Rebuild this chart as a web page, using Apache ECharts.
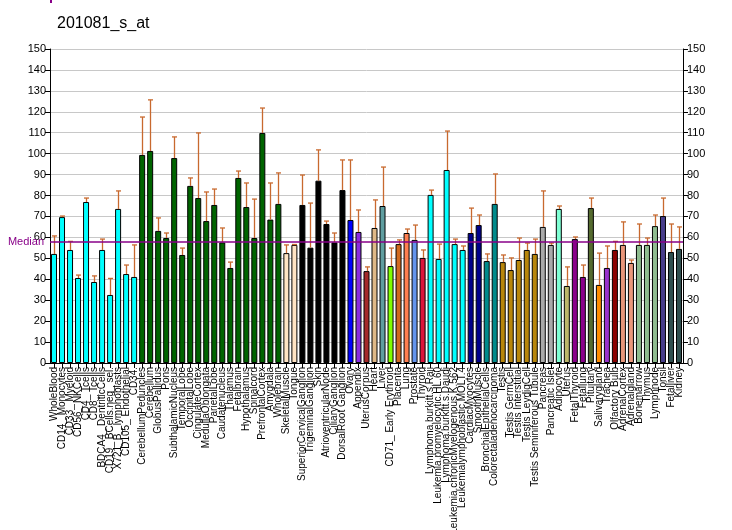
<!DOCTYPE html>
<html><head><meta charset="utf-8">
<script src="https://cdn.jsdelivr.net/npm/echarts@6/dist/echarts.min.js"></script>
<style>html,body{margin:0;padding:0;background:#fff}#c{width:732px;height:530px}</style>
</head><body><div id="c"></div>
<script>
const categories = ["WholeBlood","CD14_ Monocytes","CD33_ Myeloid","CD56_ NKCells","CD4_ Tcells","CD8_ Tcells","BDCA4_ DentriticCells","CD19_ BCells.neg_ sel.","X721_B_ lymphoblasts","CD105_ Endothelial","CD34.",
"CerebellumPeduncles","Cerebellum","GlobusPallidus","Pons","SubthalamicNucleus","TemporalLobe","OccipitalLobe","CingulateCortex","MedullaOblongata","ParietalLobe","Caudatenucleus","Thalamus","Fetalbrain","Hypothalamus","Spinalcord","PrefrontalCortex","Amygdala","Wholebrain",
"SkeletalMuscle","Tongue","SuperiorCervicalGanglion","TrigeminalGanglion","Skin","AtrioventricularNode","CiliaryGanglion","DorsalRoot Ganglion","Ovary","Appendix","UterusCorpus","Heart","Liver","CD71_ Early Erythroid","Placenta","Lung","Prostate","Thyroid",
"Lymphoma.burkitt.s.Raji","Leukemia.promyelocytic.HL.60","Lymphoma.burkitt.s.Daudi","Leukemia.chronicMyelogenous.K.562","Leukemialymphoblastic.MOLT.4","CardiacMyocytes","SmoothMuscle","BronchialEpithelialCells","Colorectaladenocarcinoma",
"Testis","Testis GermCell","Testis Interstitial","Testis LeydigCell","Testis Seminiferous Tubule","Pancreas","Pancreatic Islet","Adipocyte","Uterus","FetalThyroid","Fetallung","Pituitary","Salivarygland","Trachea","Olfactory Bulb","AdrenalCortex","Adrenalgland","Bonemarrow","Thymus","Lymphnode","Tonsil","Fetalliver","Kidney"];
const values = [52.1,69.7,54.0,40.6,76.9,38.7,54.0,32.5,73.6,42.5,41.1,
99.4,101.3,63.1,59.7,97.9,51.6,84.6,78.8,67.8,75.5,57.6,45.4,88.4,74.5,59.7,109.9,68.5,76.0,
52.5,56.4,75.5,55.1,87.1,66.4,57.6,82.6,68.3,62.6,43.9,64.5,75.0,46.3,56.8,62.1,58.8,50.2,
80.3,49.7,92.2,56.8,54.0,62.1,65.9,48.7,76.0,
48.2,44.4,49.2,54.0,52.1,65.0,56.4,73.6,36.8,59.2,41.1,74.0,37.3,45.4,54.0,56.4,47.8,56.4,56.4,65.4,70.2,53.0,54.5];
const errorTops = [60.7,70.2,58.1,42.0,78.8,41.6,59.2,40.4,82.2,46.8,56.4,
117.5,125.7,69.3,62.1,108.0,54.9,88.4,109.9,81.7,83.1,64.5,48.2,91.7,86.0,78.3,121.8,86.0,90.8,
56.4,56.6,89.8,76.4,101.8,67.8,62.1,97.0,97.0,73.1,45.9,77.9,93.6,54.9,58.8,64.0,65.9,54.0,
82.6,56.8,110.8,59.2,55.9,74.0,70.7,52.1,90.3,
51.6,50.2,59.7,57.3,59.2,82.2,57.3,75.0,45.9,60.2,46.8,78.8,52.5,55.9,58.1,67.4,49.2,66.4,59.7,70.7,78.8,66.4,65.0];
const barColors = ["#00FFFF","#00FFFF","#00FFFF","#00FFFF","#00FFFF","#00FFFF","#00FFFF","#00FFFF","#00FFFF","#00FFFF","#00FFFF",
"#006400","#006400","#006400","#006400","#006400","#006400","#006400","#006400","#006400","#006400","#006400","#006400","#006400","#006400","#006400","#006400","#006400","#006400",
"#FFE4C4","#FFE4C4","#000000","#000000","#000000","#000000","#000000","#000000","#0000FF","#8A2BE2","#A52A2A","#DEB887","#5F9EA0","#7FFF00","#D2691E","#FF7F50","#6495ED","#DC143C",
"#00FFFF","#00FFFF","#00FFFF","#00FFFF","#00FFFF","#00008B","#00008B","#008B8B","#008B8B",
"#B8860B","#B8860B","#B8860B","#B8860B","#B8860B","#A9A9A9","#A9A9A9","#7FFFD4","#BDB76B","#8B008B","#8B008B","#556B2F","#FF8C00","#9932CC","#8B0000","#E9967A","#E9967A","#8FBC8F","#8FBC8F","#8FBC8F","#483D8B","#2F4F4F","#2F4F4F"];
const medianValue = 58;
const yTicks = {min:0, max:150, interval:10};

const chart = echarts.init(document.getElementById('c'), null, {renderer:'canvas'});
const font = 'Liberation Sans, Arial, sans-serif';
const narrow = '"Liberation Sans Narrow", "Arial Narrow", "Liberation Sans", sans-serif';
const errColor = '#C8692E';
const yAxisBase = {
  type:'value', min:yTicks.min, max:yTicks.max, interval:yTicks.interval,
  axisLine:{show:true, lineStyle:{color:'#000', width:1}},
  axisTick:{show:true, length:5, lineStyle:{color:'#000'}},
  axisLabel:{color:'#000', fontSize:11, fontFamily:font, margin:4},
  splitLine:{show:false}
};
chart.setOption({
  animation:false,
  backgroundColor:'#fff',
  title:{text:'201081_s_at', left:52, top:11, textStyle:{fontFamily:font, fontSize:16, fontWeight:'normal', color:'#000'}},
  grid:{left:50, right:49, top:49, bottom:167, containLabel:false, outerBoundsMode:'none'},
  xAxis:{type:'category', data:categories, boundaryGap:true,
    axisLine:{show:true, lineStyle:{color:'#000'}},
    axisTick:{show:true, alignWithLabel:true, interval:0, length:5, lineStyle:{color:'#000'}},
    axisLabel:{interval:0, rotate:90, fontSize:10, fontFamily:narrow, color:'#000', margin:4}
  },
  yAxis:[
    Object.assign({}, yAxisBase, {position:'left', splitLine:{show:true, lineStyle:{color:'#C8C8C8', width:1}}}),
    Object.assign({}, yAxisBase, {position:'right'})
  ],
  graphic:[{type:'rect', shape:{x:50, y:0, width:2, height:3}, style:{fill:'#880088'}}],
  series:[
    {type:'bar', yAxisIndex:0, barWidth:6,
      data: values.map((v,i)=>({value:v, itemStyle:{color:barColors[i], borderColor:'#000', borderWidth:1}})),
      markLine:{silent:true, symbol:'none', lineStyle:{color:'#880088', width:1.5, type:'solid'},
        label:{show:true, position:'start', formatter:'Median', color:'#880088', fontSize:11, fontFamily:font, distance:6},
        data:[{yAxis:medianValue}]},
      z:2
    },
    {type:'custom', yAxisIndex:0, z:3,
      data: values.map((v,i)=>[i, v, errorTops[i]]),
      renderItem:function(params, api){
        const p0 = api.coord([api.value(0), api.value(1)]);
        const p1 = api.coord([api.value(0), api.value(2)]);
        const x = Math.round(p0[0]) + 0.5;
        return {type:'group', children:[
          {type:'line', shape:{x1:x, y1:p0[1], x2:x, y2:p1[1]}, style:{stroke:errColor, lineWidth:1.3}},
          {type:'line', shape:{x1:x-2.5, y1:p1[1], x2:x+2.5, y2:p1[1]}, style:{stroke:errColor, lineWidth:1.3}}
        ]};
      }
    }
  ]
});
</script></body></html>
